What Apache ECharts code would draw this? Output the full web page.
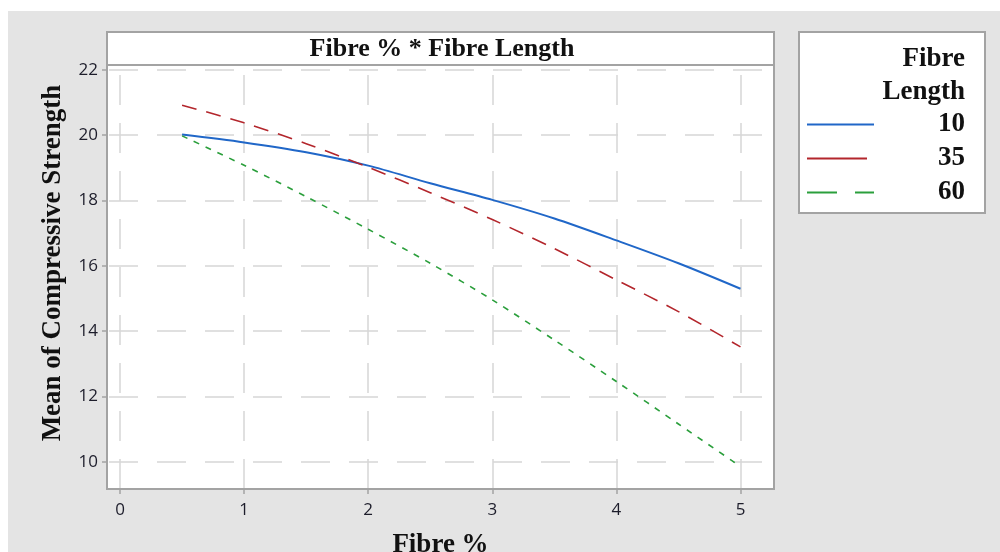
<!DOCTYPE html>
<html>
<head>
<meta charset="utf-8">
<title>Fibre % * Fibre Length</title>
<script src="https://cdn.jsdelivr.net/npm/echarts@6/dist/echarts.min.js"></script>
<style>
  html, body { margin: 0; padding: 0; background: #fff; }
  #chart { width: 1000px; height: 552px; }
</style>
</head>
<body>
<div id="chart"></div>
<script>
// data
const fibrePct = [0.5, 1, 1.5, 2, 2.5, 3, 3.5, 4, 4.5, 5]
const len10 = [20.02, 19.78, 19.48, 19.07, 18.53, 18.02, 17.45, 16.78, 16.08, 15.30]
const len35 = [20.92, 20.38, 19.74, 19.02, 18.24, 17.42, 16.53, 15.57, 14.60, 13.52]
const len60 = [19.98, 19.08, 18.12, 17.12, 16.08, 14.96, 13.73, 12.46, 11.16, 9.86]
const seriesNames = ['10', '35', '60']
const xTicks = [0, 1, 2, 3, 4, 5]
const yTicks = [10, 12, 14, 16, 18, 20, 22]

const serif = '"Liberation Serif", "DejaVu Serif", serif'
const sans = '"Open Sans", "Noto Sans", sans-serif'
const gridColor = '#d6d6d6'
const frameColor = '#a3a3a3'

// legend samples, 67x26 box (tiny corner dots fix the box size)
const box = 'M0 0h0.01v0.01h-0.01z M67 26h-0.01v-0.01h0.01z '
const iconSolid = 'path://' + box + 'M0 12h67v2h-67z'
const iconLong = 'path://' + box + 'M0 12h60v2h-60z'
const iconGap = 'path://' + box + 'M0 12h30v2h-30z M48 12h19v2h-19z'

const pairs = (ys) => fibrePct.map((x, i) => [x, ys[i]])

const chart = echarts.init(document.getElementById('chart'))

const option = {
  animation: false,
  backgroundColor: '#fff',
  grid: {
    left: 107,
    right: 226,
    top: 65,
    bottom: 63,
    outerBoundsMode: 'none',
    containLabel: false,
    show: true,
    backgroundColor: '#fff',
    borderColor: frameColor,
    borderWidth: 2
  },
  xAxis: {
    type: 'value',
    min: -0.105,
    max: 5.27,
    name: 'Fibre %',
    nameLocation: 'middle',
    nameGap: 43,
    nameTextStyle: { fontFamily: serif, fontWeight: 'bold', fontSize: 27, color: '#111' },
    axisLine: { show: true, onZero: false, lineStyle: { color: frameColor, width: 2 } },
    axisTick: { show: true, length: 5, customValues: xTicks, lineStyle: { color: frameColor, width: 1.5 } },
    axisLabel: { customValues: xTicks, margin: 13, fontFamily: sans, fontSize: 17, color: '#1d1d2b' },
    splitLine: {
      show: true,
      lineStyle: { color: gridColor, width: 1.5, type: [30, 18], dashOffset: 38 }
    }
  },
  yAxis: {
    type: 'value',
    min: 9.17,
    max: 22.15,
    axisLine: { show: true, onZero: false, lineStyle: { color: frameColor, width: 2 } },
    axisTick: { show: true, length: 5, customValues: yTicks, lineStyle: { color: frameColor, width: 1.5 } },
    axisLabel: { customValues: yTicks, margin: 9, fontFamily: sans, fontSize: 17, color: '#1d1d2b' },
    splitLine: {
      show: true,
      lineStyle: { color: gridColor, width: 1.5, type: [29, 19], dashOffset: 46 }
    }
  },
  legend: {
    orient: 'vertical',
    left: 807,
    top: 111,
    padding: 0,
    itemWidth: 67,
    itemHeight: 26,
    itemGap: 7,
    selectedMode: false,
    itemStyle: { borderWidth: 0 },
    data: [
      { name: '10', icon: iconSolid },
      { name: '35', icon: iconLong },
      { name: '60', icon: iconGap }
    ],
    formatter: (name) => '{v|' + name + '}',
    textStyle: {
      rich: {
        v: { width: 86, align: 'right', fontFamily: serif, fontWeight: 'bold', fontSize: 27, color: '#111', lineHeight: 26 }
      }
    }
  },
  series: [
    {
      name: seriesNames[0],
      type: 'line',
      data: pairs(len10),
      symbol: 'none',
      smooth: 0.3,
      color: '#2067c8',
      lineStyle: { color: '#2067c8', width: 2 }
    },
    {
      name: seriesNames[1],
      type: 'line',
      data: pairs(len35),
      symbol: 'none',
      smooth: 0.3,
      color: '#b3262c',
      lineStyle: { color: '#b3262c', width: 1.6, type: [15, 10] }
    },
    {
      name: seriesNames[2],
      type: 'line',
      data: pairs(len60),
      symbol: 'none',
      smooth: 0.3,
      color: '#2b9f3c',
      lineStyle: { color: '#2b9f3c', width: 1.6, type: [6, 7] }
    }
  ],
  graphic: [
    {
      type: 'rect',
      z: -10,
      silent: true,
      shape: { x: 8, y: 11, width: 992, height: 541 },
      style: { fill: '#e4e4e4' }
    },
    {
      type: 'rect',
      z: 1,
      silent: true,
      shape: { x: 107, y: 32, width: 667, height: 33 },
      style: { fill: '#fff', stroke: frameColor, lineWidth: 2 }
    },
    {
      type: 'text',
      z: 2,
      silent: true,
      x: 442,
      y: 49,
      style: {
        text: 'Fibre % * Fibre Length',
        fontFamily: serif, fontWeight: 'bold', fontSize: 26,
        fill: '#111', align: 'center', verticalAlign: 'middle'
      }
    },
    {
      type: 'rect',
      z: 1,
      silent: true,
      shape: { x: 799, y: 32, width: 186, height: 181 },
      style: { fill: '#fff', stroke: frameColor, lineWidth: 2 }
    },
    {
      type: 'text',
      z: 2,
      silent: true,
      x: 965,
      y: 43,
      style: {
        text: 'Fibre\nLength',
        fontFamily: serif, fontWeight: 'bold', fontSize: 27, lineHeight: 33,
        fill: '#111', align: 'right', verticalAlign: 'top'
      }
    },
    {
      type: 'text',
      z: 2,
      silent: true,
      x: 53,
      y: 263,
      rotation: Math.PI / 2,
      style: {
        text: 'Mean of Compressive Strength',
        fontFamily: serif, fontWeight: 'bold', fontSize: 27,
        fill: '#111', align: 'center', verticalAlign: 'middle'
      }
    }
  ]
}

chart.setOption(option)
</script>
</body>
</html>
